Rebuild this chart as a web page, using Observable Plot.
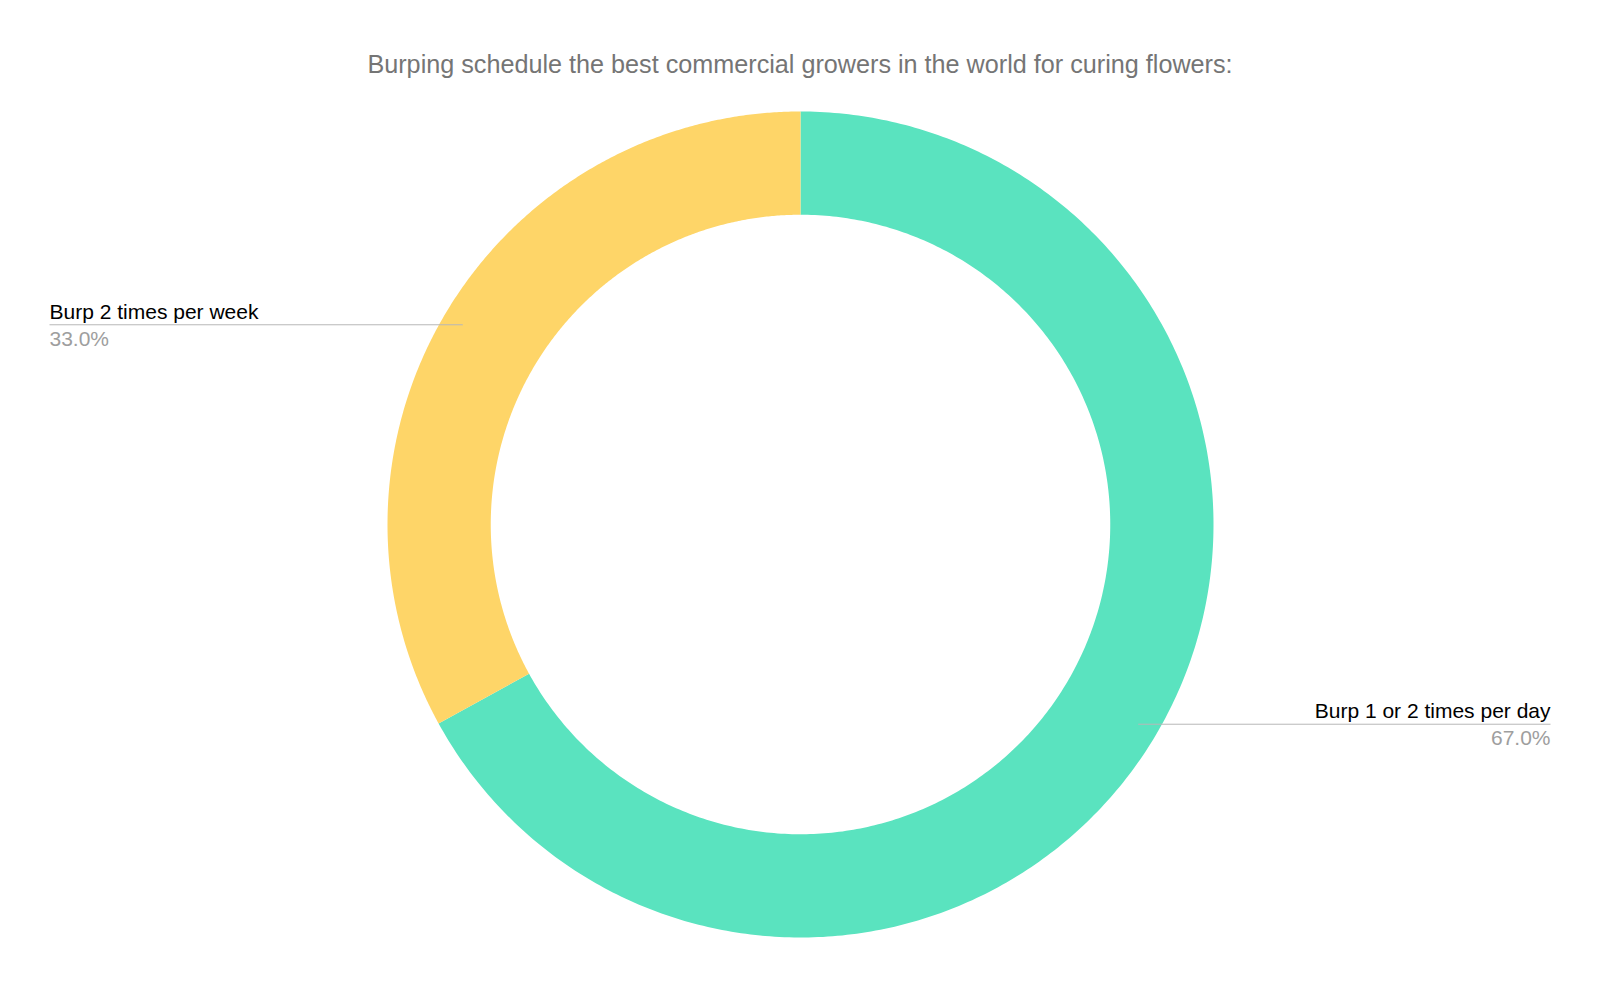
<!DOCTYPE html>
<html>
<head>
<meta charset="utf-8">
<script src="https://cdn.jsdelivr.net/npm/d3@7"></script>
<script src="https://cdn.jsdelivr.net/npm/@observablehq/plot@0.6"></script>
<style>
  html, body { margin: 0; padding: 0; background: #fff; overflow: hidden; }
  #title { width: 1600px; height: 100px; box-sizing: border-box; padding-top: 50px; line-height: 28px;
    text-align: center; font-family: "Liberation Sans", Arial, sans-serif; font-size: 25.2px; color: #757575; }
  svg { display: block; font-family: "Liberation Sans", Arial, sans-serif; }
</style>
</head>
<body>
<div id="title">Burping schedule the best commercial growers in the world for curing flowers:</div>
<div id="chart"></div>
<script>
// Data
const categories = ["Burp 1 or 2 times per day", "Burp 2 times per week"];
const values = [67.0, 33.0];
const percentLabels = ["67.0%", "33.0%"];
const colors = ["#5ae3bf", "#fed568"];

// Layout
const W = 1600, H = 888;
const cx = 800, cy = 424, R = 413;
const innerRatio = 0.75;
const anchorRatio = 0.95;
const leftEdgePx = 49, rightEdgePx = 1550;

const total = d3.sum(values);
let acc = 0;
const slices = values.map((v, i) => {
  const a0 = acc / total * 2 * Math.PI;
  acc += v;
  const a1 = acc / total * 2 * Math.PI;
  return {category: categories[i], value: v, label: percentLabels[i], color: colors[i], a0, a1, mid: (a0 + a1) / 2};
});

function ringPoints(s) {
  const pts = [];
  const n = 360;
  for (let k = 0; k <= n; k++) {
    const a = s.a0 + (s.a1 - s.a0) * k / n;
    pts.push({x: Math.sin(a), y: Math.cos(a)});
  }
  for (let k = n; k >= 0; k--) {
    const a = s.a0 + (s.a1 - s.a0) * k / n;
    pts.push({x: innerRatio * Math.sin(a), y: innerRatio * Math.cos(a)});
  }
  return pts;
}

const leaders = slices.map(s => {
  const ax = anchorRatio * Math.sin(s.mid);
  const ay = anchorRatio * Math.cos(s.mid);
  const right = ax > 0;
  const edge = ((right ? rightEdgePx : leftEdgePx) - cx) / R;
  return {...s, ax, ay, edge, right};
});
const rightLabels = leaders.filter(d => d.right);
const leftLabels = leaders.filter(d => !d.right);

function labelMarks(data, anchor) {
  return [
    Plot.text(data, {x: "edge", y: "ay", text: "category", textAnchor: anchor, lineAnchor: "bottom", dy: -6,
      fill: "#000", fontSize: 21}),
    Plot.text(data, {x: "edge", y: "ay", text: "label", textAnchor: anchor, lineAnchor: "top", dy: 6,
      fill: "#9e9e9e", fontSize: 21})
  ];
}

const chart = Plot.plot({
  width: W,
  height: H,
  margin: 0,
  x: {type: "linear", domain: [-1, 1], range: [cx - R, cx + R], axis: null},
  y: {type: "linear", domain: [-1, 1], range: [cy + R, cy - R], axis: null},
  marks: [
    ...slices.map(s => Plot.line(ringPoints(s), {x: "x", y: "y", fill: s.color, stroke: "none", curve: "linear"})),
    Plot.link(leaders, {x1: "ax", y1: "ay", x2: "edge", y2: "ay", stroke: "#b7b7b7", strokeWidth: 1}),
    ...labelMarks(leftLabels, "start"),
    ...labelMarks(rightLabels, "end")
  ]
});
document.getElementById("chart").appendChild(chart);
</script>
</body>
</html>
